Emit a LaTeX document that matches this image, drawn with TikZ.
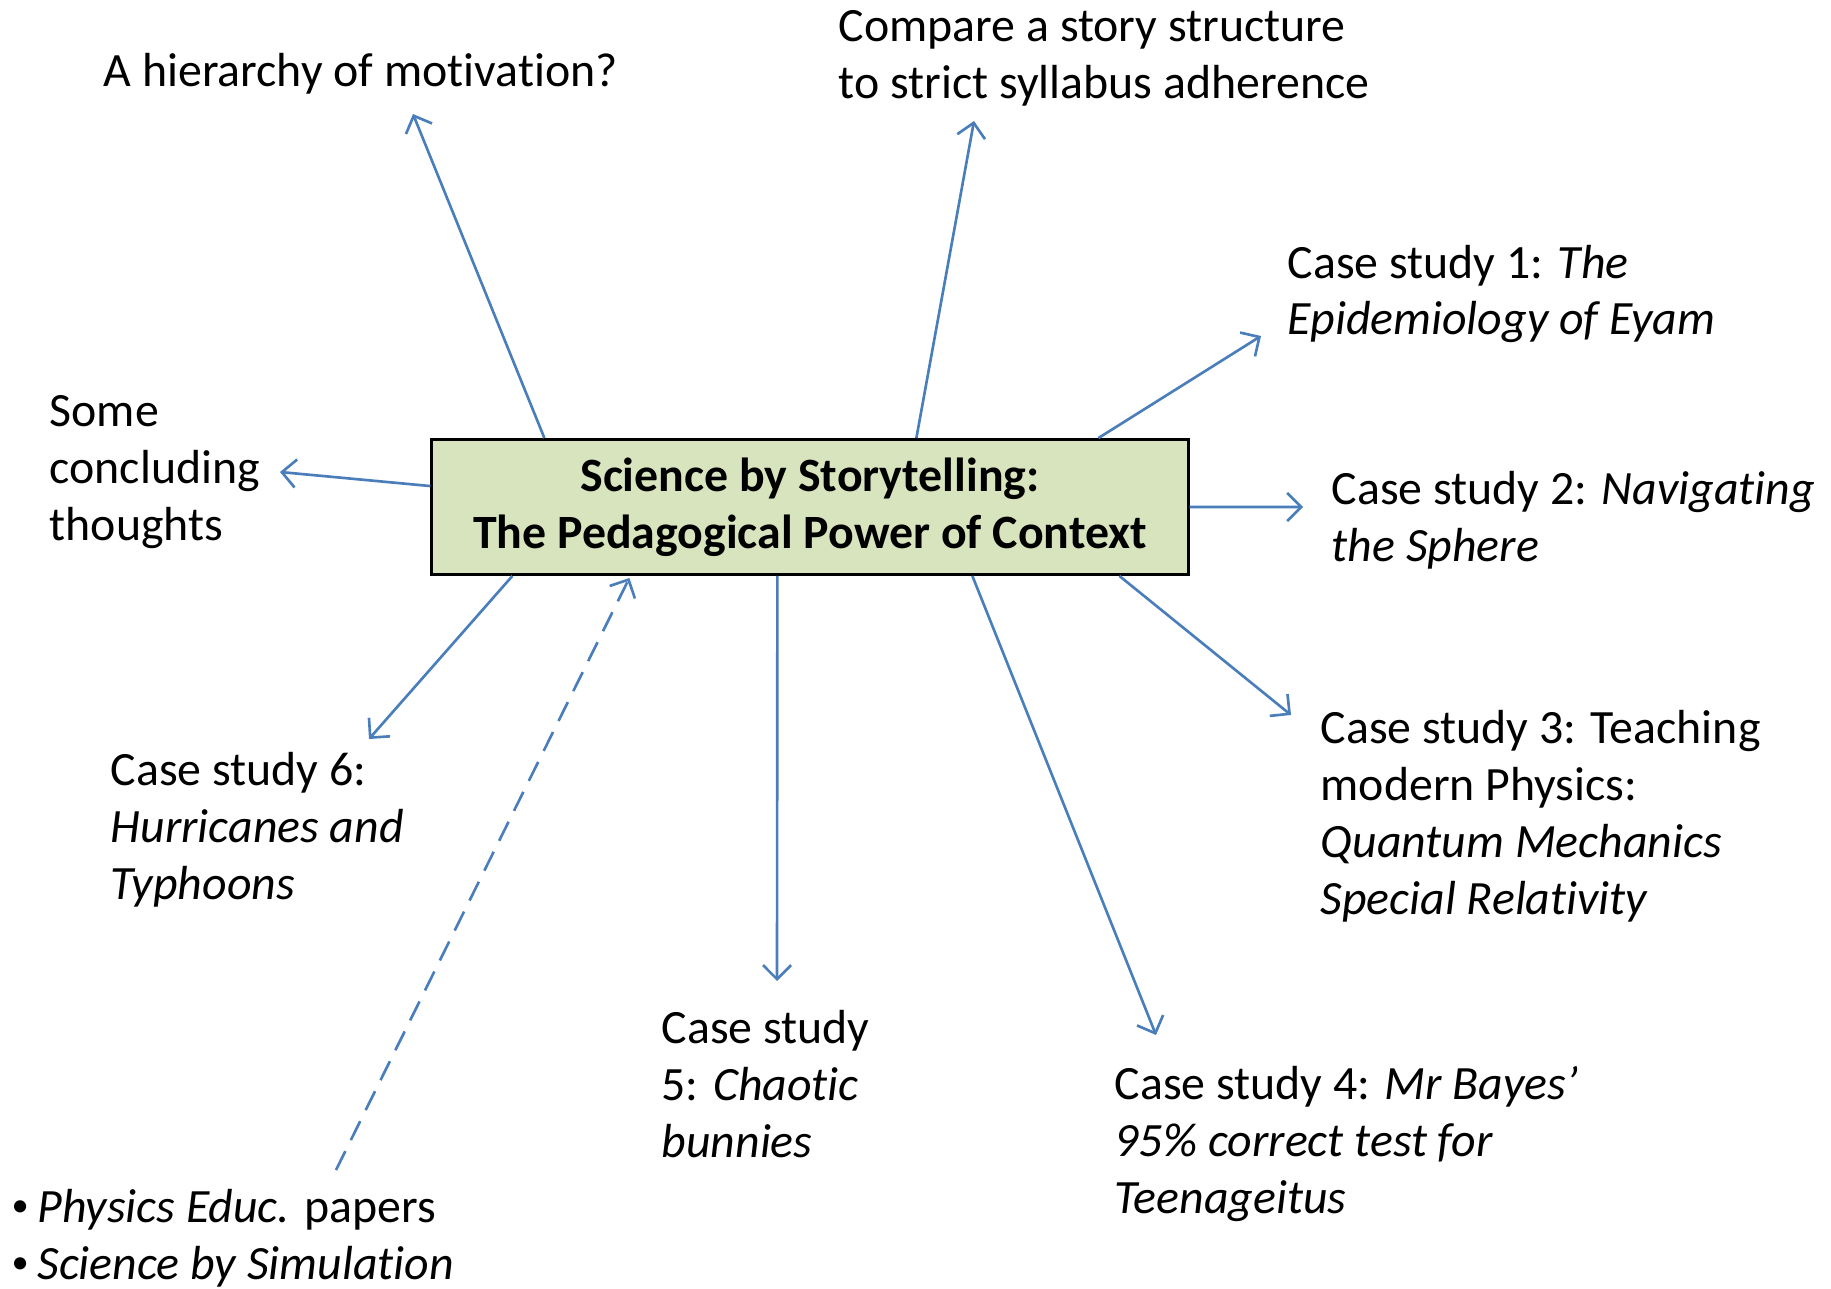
\documentclass[tikz,border=0pt]{standalone}
\usepackage{fontspec}
\setmainfont{Carlito}[Ligatures={TeX,NoCommon}]
\usepackage{tikz}
\usetikzlibrary{calc,arrows.meta,positioning}

\definecolor{boxgreen}{HTML}{D7E4BD}
\definecolor{arrblue}{HTML}{4A7EBB}

\newcommand{\smallbul}{\raisebox{0.12em}{\scalebox{0.72}{•}}\hspace{0.18em}}

\begin{document}
\begin{tikzpicture}[x=0.01cm,y=-0.01cm,
		lbl/.style={anchor=west,align=left,inner sep=0pt,font=\fontsize{13.6}{16.2}\selectfont},
		arr/.style={arrblue,line width=0.75pt,-{Straight Barb[length=4pt,width=8pt,line width=0.75pt]}}]
		\useasboundingbox (0,0) rectangle (1831,1288);
		
		% central box
		\node[draw=black,line width=0.8pt,fill=boxgreen,minimum width=7.56cm,minimum height=1.35cm,align=center,
		font=\fontsize{13.6}{16.2}\selectfont\bfseries] (box) at (810,507)
		{Science by Storytelling:\\The Pedagogical Power of Context};
		
		% labels round it
		\node[lbl] (hier) at (103,74) {A hierarchy of motivation?};
		\node[lbl] (comp) at (838,58) {Compare a story structure\\to strict syllabus adherence};
		\node[lbl] (cs1) at (1287,294) {Case study 1: \textit{The}\\\textit{Epidemiology of Eyam}};
		\node[lbl] (cs2) at (1331,520) {Case study 2: \textit{Navigating}\\\textit{the Sphere}};
		\node[lbl] (cs3) at (1320,816) {Case study 3: Teaching\\modern Physics:\\\textit{Quantum Mechanics}\\\textit{Special Relativity}};
		\node[lbl] (cs4) at (1114,1144) {Case study 4: \textit{Mr Bayes’}\\\textit{95\% correct test for}\\\textit{Teenageitus}};
		\node[lbl] (cs5) at (661,1084) {Case study\\5: \textit{Chaotic}\\\textit{bunnies}};
		\node[lbl] (cs6) at (110,830) {Case study 6:\\\textit{Hurricanes and}\\\textit{Typhoons}};
		\node[lbl] (concl) at (49,472) {Some\\concluding\\thoughts};
		\node[lbl] (refs) at (11,1238) {\smallbul\textit{Physics Educ.} papers\\\smallbul\textit{Science by Simulation}};
		
		% arrow ends
		\coordinate (hierend) at (413,114);
		\coordinate (compend) at (974,121);
		\coordinate (cs1end) at (1261,336);
		\coordinate (cs2end) at (1303,507);
		\coordinate (cs3end) at (1291,715);
		\coordinate (cs4end) at (1156,1035);
		\coordinate (cs5end) at (777,981);
		\coordinate (cs6end) at (369,739);
		\coordinate (conclend) at (280,472);
		\coordinate (refsstart) at (336,1170);
		
		\draw[arr] ($(box.north west)+(114,0)$) -- (hierend);
		\draw[arr] ($(box.north west)+(486,0)$) -- (compend);
		\draw[arr] ($(box.north west)+(668,0)$) -- (cs1end);
		\draw[arr] ($(box.north east)+(0,69)$) -- (cs2end);
		\draw[arr] ($(box.south west)+(689,0)$) -- (cs3end);
		\draw[arr] ($(box.south west)+(542,0)$) -- (cs4end);
		\draw[arr] ($(box.south west)+(347,0)$) -- (cs5end);
		\draw[arr] ($(box.south west)+(82,0)$) -- (cs6end);
		\draw[arr] ($(box.north west)+(0,48)$) -- (conclend);
		
		\draw[arr,dash pattern=on 6pt off 3.5pt] (refsstart) -- ($(box.south west)+(199,2)$);
	\end{tikzpicture}
\end{document}
